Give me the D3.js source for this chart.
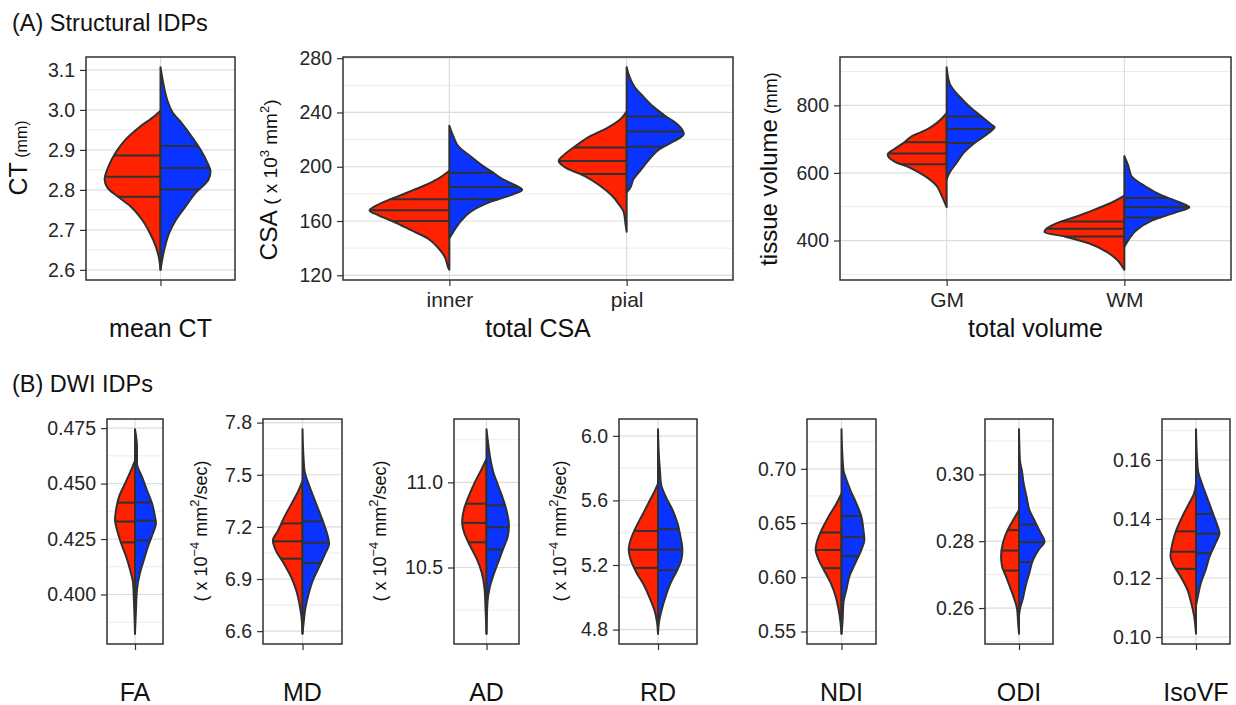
<!DOCTYPE html>
<html>
<head>
<meta charset="utf-8">
<title>Split violins</title>
<script src="https://cdnjs.cloudflare.com/ajax/libs/d3/7.8.5/d3.min.js"></script>
<style>
    body { margin: 0; background: #fff; }
    svg text { font-family: "Liberation Sans", Arial, Helvetica, sans-serif; }
</style>
</head>
<body>
<svg id="chart" width="1236" height="705"></svg>
<script>
// each half violin: [value, density], density in relative units
// red = left half, blue = right half; quartiles are [q1, median, q3]

// (A) structural
var ctCats = ["mean CT"];
var ctRed  = [[2.600,0],[2.635,2],[2.660,5],[2.693,11],[2.726,19],[2.760,31],[2.784,44],[2.805,54],[2.826,57],[2.859,53],[2.892,46],[2.925,36],[2.958,21],[2.985,6],[2.998,0]];
var ctBlue = [[2.600,0],[2.652,4],[2.693,9],[2.726,16],[2.760,26],[2.793,36],[2.826,49],[2.846,51],[2.867,48],[2.900,41],[2.933,32],[2.966,22],[2.995,12],[3.024,7],[3.065,3],[3.107,0]];
var ctRedQ = [2.783, 2.833, 2.886];
var ctBlueQ = [2.801, 2.855, 2.910];
var ctTicks = [2.6, 2.7, 2.8, 2.9, 3.0, 3.1];

var csaCats = ["inner", "pial"];
var innerRed  = [[124,0],[125.3,1],[132.6,4],[139.9,11],[147.2,22],[153.3,39],[159.3,56],[164.2,72],[167.8,81],[171.5,74],[176.3,59],[181.2,42],[186,26],[190.9,12],[197,0]];
var innerBlue = [[147.2,0],[152,4],[159.3,11],[166.6,21],[173.9,41],[180,66],[183.1,74],[186,68],[190.9,54],[195.8,44],[200.6,34],[207.9,21],[215.2,9],[222.5,4],[230.2,0]];
var innerRedQ = [160, 168, 176];
var innerBlueQ = [176, 185, 195.5];
var pialRed  = [[152,0],[156.9,1],[166.6,3],[171.5,7],[178.8,15],[186,27],[193.3,43],[199.4,62],[204.3,69],[209.1,63],[215.2,52],[222.5,37],[228.5,20],[234.6,7],[240.7,0]];
var pialBlue = [[181.2,0],[183.6,3],[190.9,7],[198.2,15],[205.5,23],[212.8,33],[218.8,48],[224.2,58],[231,52],[237,40],[244.3,27],[251.6,17],[258.9,8],[266.2,3],[273.4,0]];
var pialRedQ = [194.7, 204.3, 214.2];
var pialBlueQ = [214.8, 225.9, 237];
var csaTicks = [120, 160, 200, 240, 280];

var volCats = ["GM", "WM"];
var gmRed  = [[498.5,0],[532.7,5],[561.9,10],[591.2,22],[615.6,37],[635.1,53],[654.6,59],[669.3,53],[688.8,43],[708.3,35],[727.8,20],[747.3,10],[776.6,0]];
var gmBlue = [[581.5,0],[600.9,3],[630.2,10],[659.5,17],[688.8,28],[718,42],[735.6,48],[742.4,45],[766.8,35],[796.1,23],[825.4,13],[864.4,3],[913,0]];
var gmRedQ = [625.4, 657.6, 690.7];
var gmBlueQ = [688.8, 729.8, 766.8];
var wmRed  = [[313.2,0],[318,1],[342.4,7],[366.8,18],[391.2,35],[410.7,58],[425.4,80],[435.1,78],[454.6,65],[474.1,45],[493.7,28],[513.2,12],[532.7,0]];
var wmBlue = [[381.5,0],[405.8,5],[430.2,12],[459.5,28],[483.9,52],[498.5,65],[513.2,55],[532.7,38],[561.9,20],[591.2,7],[620.5,4],[649.8,0]];
var wmRedQ = [411.7, 435.1, 456.6];
var wmBlueQ = [468.3, 498.5, 525.9];
var volTicks = [400, 600, 800];

// (B) DWI
var faRed  = [[0.3823,0],[0.3964,1],[0.4054,2],[0.4113,5],[0.4173,9],[0.4232,14],[0.4292,18],[0.4336,20],[0.438,19],[0.444,16],[0.450,10],[0.456,4],[0.4604,0]];
var faBlue = [[0.3823,0],[0.3935,1],[0.4024,2],[0.4098,5],[0.4158,9],[0.4217,13],[0.4277,18],[0.4321,21],[0.4351,20],[0.4411,17],[0.447,12],[0.453,7],[0.459,2],[0.4664,2],[0.4745,0]];
var faRedQ = [0.4235, 0.4329, 0.4414];
var faBlueQ = [0.4244, 0.4333, 0.4415];
var faTicks = [0.400, 0.425, 0.450, 0.475];

var mdRed  = [[6.585,0],[6.680,1],[6.757,3],[6.833,6],[6.910,11],[6.987,18],[7.063,26],[7.121,29],[7.178,24],[7.255,18],[7.331,11],[7.408,4],[7.465,0]];
var mdBlue = [[6.585,0],[6.642,1],[6.738,3],[6.814,6],[6.891,10],[6.967,16],[7.044,22],[7.101,26],[7.140,25],[7.216,21],[7.293,16],[7.369,11],[7.446,6],[7.522,2],[7.599,1],[7.762,0]];
var mdRedQ = [7.017, 7.117, 7.220];
var mdBlueQ = [6.992, 7.109, 7.232];
var mdTicks = [6.6, 6.9, 7.2, 7.5, 7.8];

var adRed  = [[10.111,0],[10.258,1],[10.375,2],[10.473,5],[10.551,10],[10.629,17],[10.707,23],[10.766,25],[10.844,23],[10.922,18],[11.0,12],[11.078,5],[11.137,0]];
var adBlue = [[10.111,0],[10.297,1],[10.375,3],[10.453,7],[10.531,12],[10.609,17],[10.688,22],[10.746,23],[10.824,21],[10.902,17],[10.98,12],[11.059,7],[11.137,4],[11.215,2],[11.312,0]];
var adRedQ = [10.648, 10.762, 10.875];
var adBlueQ = [10.607, 10.736, 10.865];
var adTicks = [10.5, 11.0];

var rdRed  = [[4.774,0],[4.845,1],[4.906,3],[4.988,8],[5.070,14],[5.152,22],[5.233,28],[5.295,30],[5.336,29],[5.417,24],[5.499,17],[5.581,10],[5.663,3],[5.704,0]];
var rdBlue = [[4.774,0],[4.845,1],[4.927,4],[5.009,8],[5.090,13],[5.172,20],[5.233,24],[5.295,25],[5.377,23],[5.458,20],[5.540,15],[5.622,8],[5.704,3],[5.785,2],[5.867,1],[6.041,0]];
var rdRedQ = [5.182, 5.295, 5.411];
var rdBlueQ = [5.168, 5.295, 5.422];
var rdTicks = [4.8, 5.2, 5.6, 6.0];

var ndiRed  = [[0.5479,0],[0.5585,1],[0.5707,3],[0.5828,6],[0.595,11],[0.6072,18],[0.6163,23],[0.6255,26],[0.6315,25],[0.6437,20],[0.6559,13],[0.668,5],[0.6772,0]];
var ndiBlue = [[0.5479,0],[0.5585,1],[0.5768,2],[0.589,5],[0.6011,8],[0.6133,14],[0.6255,20],[0.6346,23],[0.6437,22],[0.6559,20],[0.668,15],[0.6802,9],[0.6924,4],[0.6985,2],[0.7106,1],[0.7365,0]];
var ndiRedQ = [0.6084, 0.6252, 0.6413];
var ndiBlueQ = [0.6194, 0.637, 0.6565];
var ndiTicks = [0.55, 0.60, 0.65, 0.70];

var odiRed  = [[0.2523,0],[0.2558,1],[0.2597,2],[0.2627,5],[0.2666,10],[0.2696,14],[0.2725,18],[0.2755,19],[0.2795,17],[0.2834,12],[0.2864,6],[0.2893,0]];
var odiBlue = [[0.2577,0],[0.2597,1],[0.2627,4],[0.2666,7],[0.2706,11],[0.2745,15],[0.2775,21],[0.2799,27],[0.2824,23],[0.2864,16],[0.2893,11],[0.2933,8],[0.2972,5],[0.3012,3],[0.3041,1],[0.3135,0]];
var odiRedQ = [0.2712, 0.2772, 0.2833];
var odiBlueQ = [0.2738, 0.2797, 0.2850];
var odiTicks = [0.26, 0.28, 0.30];

var isoRed  = [[0.1011,0],[0.1073,2],[0.1117,5],[0.1162,9],[0.1207,16],[0.1251,24],[0.1274,26],[0.1318,24],[0.1363,20],[0.1408,14],[0.1453,7],[0.1486,2],[0.152,0]];
var isoBlue = [[0.1106,0],[0.114,2],[0.1184,5],[0.1229,10],[0.1274,14],[0.1318,20],[0.1352,24],[0.1385,21],[0.143,16],[0.1475,11],[0.152,6],[0.1564,2],[0.1609,1],[0.1704,0]];
var isoRedQ = [0.1231, 0.1289, 0.1358];
var isoBlueQ = [0.1284, 0.1350, 0.1417];
var isoTicks = [0.10, 0.12, 0.14, 0.16];

var RED = '#ff2200', BLUE = '#0b33ff', INK = '#303030';

var svg = d3.select('#chart');

// section titles
svg.append('text').attr('x', 12).attr('y', 31).attr('font-size', 23.5).attr('fill', '#111').text('(A) Structural IDPs');
svg.append('text').attr('x', 12).attr('y', 392).attr('font-size', 23.5).attr('fill', '#111').text('(B) DWI IDPs');

var unitsDWI = [
    { t: '( x 10', size: 18 }, { t: '\u22124', size: 13, sup: true },
    { t: ' mm', size: 18 }, { t: '2', size: 13, sup: true }, { t: '/sec)', size: 18 }
];

var panels = [
    { cats: ctCats, violins: [[ctRed, ctBlue, ctRedQ, ctBlueQ]], ticks: ctTicks, fmt: '.1f',
      x0: 86, x1: 235, y0: 57, y1: 280, title: 'mean CT',
      yTitle: [{ t: 'CT', size: 25 }, { t: ' (mm)', size: 16 }], yTitleX: 27, yTitleY: 158 },
    { cats: csaCats, violins: [[innerRed, innerBlue, innerRedQ, innerBlueQ], [pialRed, pialBlue, pialRedQ, pialBlueQ]],
      ticks: csaTicks, fmt: 'd', x0: 343, x1: 733, y0: 57, y1: 280, title: 'total CSA',
      yTitle: [{ t: 'CSA', size: 24.5 }, { t: ' ( x 10', size: 19 }, { t: '3', size: 13, sup: true },
               { t: ' mm', size: 19 }, { t: '2', size: 13, sup: true }, { t: ')', size: 19 }],
      yTitleX: 277, yTitleY: 180 },
    { cats: volCats, violins: [[gmRed, gmBlue, gmRedQ, gmBlueQ], [wmRed, wmBlue, wmRedQ, wmBlueQ]],
      ticks: volTicks, fmt: 'd', x0: 840, x1: 1231, y0: 57, y1: 280, title: 'total volume',
      yTitle: [{ t: 'tissue volume', size: 24 }, { t: ' (mm)', size: 18 }], yTitleX: 777, yTitleY: 169 },

    { cats: ['FA'], violins: [[faRed, faBlue, faRedQ, faBlueQ]], ticks: faTicks, fmt: '.3f',
      x0: 107, x1: 163, y0: 419, y1: 644, title: 'FA' },
    { cats: ['MD'], violins: [[mdRed, mdBlue, mdRedQ, mdBlueQ]], ticks: mdTicks, fmt: '.1f',
      x0: 263, x1: 342, y0: 419, y1: 644, title: 'MD', yTitle: unitsDWI, yTitleX: 207, yTitleY: 531 },
    { cats: ['AD'], violins: [[adRed, adBlue, adRedQ, adBlueQ]], ticks: adTicks, fmt: '.1f',
      x0: 454, x1: 519, y0: 419, y1: 644, title: 'AD', yTitle: unitsDWI, yTitleX: 386, yTitleY: 531 },
    { cats: ['RD'], violins: [[rdRed, rdBlue, rdRedQ, rdBlueQ]], ticks: rdTicks, fmt: '.1f',
      x0: 619, x1: 697, y0: 419, y1: 644, title: 'RD', yTitle: unitsDWI, yTitleX: 566, yTitleY: 531 },
    { cats: ['NDI'], violins: [[ndiRed, ndiBlue, ndiRedQ, ndiBlueQ]], ticks: ndiTicks, fmt: '.2f',
      x0: 807, x1: 876, y0: 419, y1: 644, title: 'NDI' },
    { cats: ['ODI'], violins: [[odiRed, odiBlue, odiRedQ, odiBlueQ]], ticks: odiTicks, fmt: '.2f',
      x0: 985, x1: 1053, y0: 419, y1: 644, title: 'ODI' },
    { cats: ['IsoVF'], violins: [[isoRed, isoBlue, isoRedQ, isoBlueQ]], ticks: isoTicks, fmt: '.2f',
      x0: 1162, x1: 1230, y0: 419, y1: 644, title: 'IsoVF' }
];

panels.forEach(drawPanel);

function drawPanel(p) {
    var g = svg.append('g');
    var single = p.cats.length === 1;

    // y domain = data range + 5%, like ggplot
    var vals = [];
    p.violins.forEach(function (v) {
        v[0].concat(v[1]).forEach(function (d) { vals.push(d[0]); });
    });
    var ext = d3.extent(vals), pad = (ext[1] - ext[0]) * 0.05;
    var y = d3.scaleLinear().domain([ext[0] - pad, ext[1] + pad]).range([p.y1, p.y0]);
    var x = d3.scalePoint().domain(p.cats).range([p.x0, p.x1]).padding(0.6);
    var maxD = d3.max(p.violins, function (v) {
        return d3.max(v[0].concat(v[1]), function (d) { return d[1]; });
    });
    var w = d3.scaleLinear().domain([0, maxD]).range([0, x.step() * 0.45]);

    // grid
    var step = p.ticks[1] - p.ticks[0];
    var minor = d3.range(p.ticks[0] - step / 2, y.domain()[1], step)
        .filter(function (t) { return t > y.domain()[0]; });
    g.selectAll('.minor').data(minor).enter().append('line')
        .attr('x1', p.x0).attr('x2', p.x1)
        .attr('y1', function (d) { return y(d); }).attr('y2', function (d) { return y(d); })
        .attr('stroke', '#ececec').attr('stroke-width', 1);
    g.selectAll('.major').data(p.ticks).enter().append('line')
        .attr('x1', p.x0).attr('x2', p.x1)
        .attr('y1', function (d) { return y(d); }).attr('y2', function (d) { return y(d); })
        .attr('stroke', '#dcdcdc').attr('stroke-width', 1.2);
    g.selectAll('.vgrid').data(p.cats).enter().append('line')
        .attr('x1', function (d) { return x(d); }).attr('x2', function (d) { return x(d); })
        .attr('y1', p.y0).attr('y2', p.y1)
        .attr('stroke', '#dcdcdc').attr('stroke-width', 1.2);

    // violins
    p.violins.forEach(function (v, i) {
        var cx = x(p.cats[i]);
        [[v[0], v[2], -1, RED], [v[1], v[3], 1, BLUE]].forEach(function (half) {
            var dens = half[0], q = half[1], side = half[2];
            var area = d3.area()
                .curve(d3.curveMonotoneY)
                .y(function (d) { return y(d[0]); })
                .x0(cx)
                .x1(function (d) { return cx + side * w(d[1]); });
            g.append('path').attr('d', area(dens))
                .attr('fill', half[3]).attr('stroke', INK).attr('stroke-width', 2)
                .attr('stroke-linejoin', 'round');
            var at = d3.scaleLinear()
                .domain(dens.map(function (d) { return d[0]; }))
                .range(dens.map(function (d) { return d[1]; }));
            g.selectAll(null).data(q).enter().append('line')
                .attr('x1', cx).attr('x2', function (d) { return cx + side * w(at(d)); })
                .attr('y1', function (d) { return y(d); }).attr('y2', function (d) { return y(d); })
                .attr('stroke', INK).attr('stroke-width', 2);
        });
    });

    // border
    g.append('rect').attr('x', p.x0).attr('y', p.y0)
        .attr('width', p.x1 - p.x0).attr('height', p.y1 - p.y0)
        .attr('fill', 'none').attr('stroke', INK).attr('stroke-width', 1.5);

    // y axis
    var fmt = d3.format(p.fmt);
    var yAxis = g.append('g').attr('transform', 'translate(' + p.x0 + ',0)')
        .call(d3.axisLeft(y).tickValues(p.ticks).tickFormat(fmt).tickSize(6).tickPadding(5));
    yAxis.select('.domain').remove();
    yAxis.selectAll('line').attr('stroke', INK).attr('stroke-width', 1.2);
    yAxis.selectAll('text').attr('font-size', 19.5).attr('fill', '#262626')
        .attr('font-family', '"Liberation Sans", Arial, sans-serif');

    // x axis
    var xAxis = g.append('g').attr('transform', 'translate(0,' + p.y1 + ')')
        .call(d3.axisBottom(x).tickSize(6).tickPadding(6)
            .tickFormat(function (d) { return single ? '' : d; }));
    xAxis.select('.domain').remove();
    xAxis.selectAll('line').attr('stroke', INK).attr('stroke-width', 1.2);
    xAxis.selectAll('text').attr('font-size', 21).attr('fill', '#262626')
        .attr('font-family', '"Liberation Sans", Arial, sans-serif');

    g.append('text').attr('x', (p.x0 + p.x1) / 2).attr('y', p.y1 + 57)
        .attr('text-anchor', 'middle').attr('font-size', 25).attr('fill', '#111')
        .text(p.title);

    if (p.yTitle) {
        var t = g.append('text').attr('text-anchor', 'middle').attr('fill', '#111')
            .attr('transform', 'translate(' + p.yTitleX + ',' + p.yTitleY + ') rotate(-90)');
        var shifted = false;
        p.yTitle.forEach(function (part) {
            var dy = 0;
            if (part.sup && !shifted) { dy = -8; shifted = true; }
            else if (!part.sup && shifted) { dy = 8; shifted = false; }
            t.append('tspan').attr('font-size', part.size).attr('dy', dy).text(part.t);
        });
    }
}
</script>
</body>
</html>
